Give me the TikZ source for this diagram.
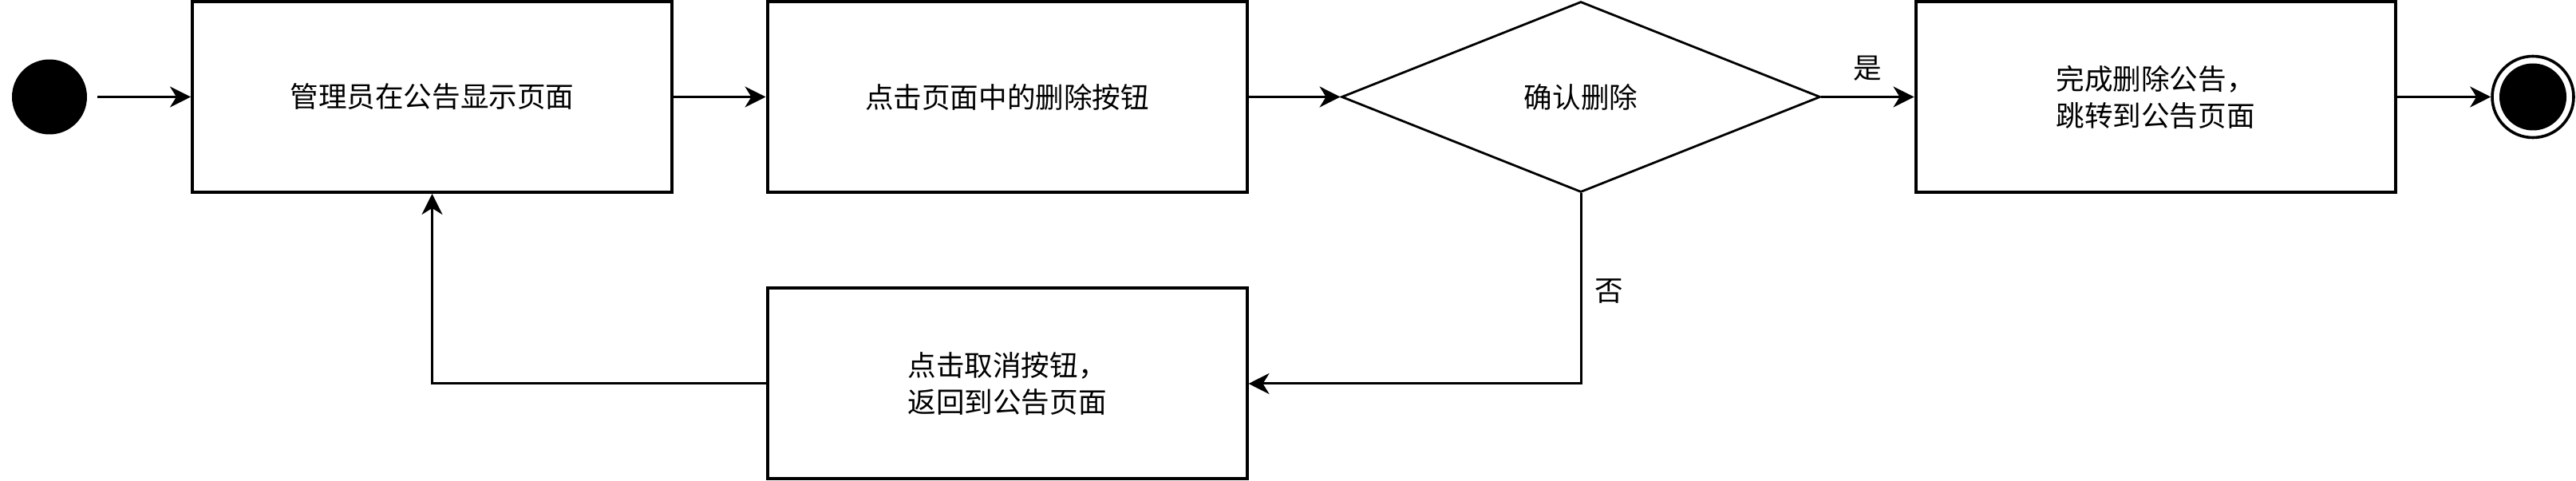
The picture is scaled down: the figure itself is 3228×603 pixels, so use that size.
\documentclass[tikz,border=0pt]{standalone}
\usepackage{fontspec}
\setmainfont{Noto Sans CJK SC}
\usetikzlibrary{arrows.meta,shapes.geometric}
\begin{document}
\begin{tikzpicture}[x=0.5pt,y=-0.5pt,
  txt/.style={font=\fontsize{17.8}{23}\selectfont},
  box/.style={draw, line width=2pt, minimum width=300.5pt, minimum height=119.5pt, inner sep=0pt, align=center, txt},
  dia/.style={draw, diamond, line width=1.4pt, minimum width=300pt, minimum height=119.5pt, aspect=2.51, inner sep=0pt, txt},
  startdot/.style={circle, fill=black, minimum size=47pt, inner sep=0pt},
  endring/.style={circle, draw, line width=1.8pt, fill=white, minimum size=51pt, inner sep=0pt},
  conn/.style={line width=1.5pt, -{Stealth[length=13pt,width=13pt,inset=4pt]}},
  lbl/.style={txt, inner sep=0pt}
]
\useasboundingbox (0,0) rectangle (3228,603);
\node[startdot] (s) at (62,121.5) {};
\node[box] (b1) at (541.5,121.5) {管理员在公告显示页面};
\node[box] (b2) at (1262,121.5) {点击页面中的删除按钮};
\node[dia] (d) at (1981,121.5) {确认删除};
\node[box] (b3) at (2701,121.5) {完成删除公告，\\跳转到公告页面};
\node[endring] (e) at (3174,121.5) {};
\fill (e.center) circle (21pt);
\node[box] (b4) at (1262,481) {点击取消按钮，\\返回到公告页面};
\draw[conn, shorten <=6.5pt] (s) -- (b1);
\draw[conn] (b1) -- (b2);
\draw[conn] (b2) -- (d);
\draw[conn] (d) -- node[lbl, midway, yshift=18pt] {是} (b3);
\draw[conn] (b3) -- (e);
\draw[conn] (d.south) |- node[lbl, pos=0.256, xshift=17.5pt] {否} (b4.east);
\draw[conn] (b4.west) -| (b1.south);
\end{tikzpicture}
\end{document}
